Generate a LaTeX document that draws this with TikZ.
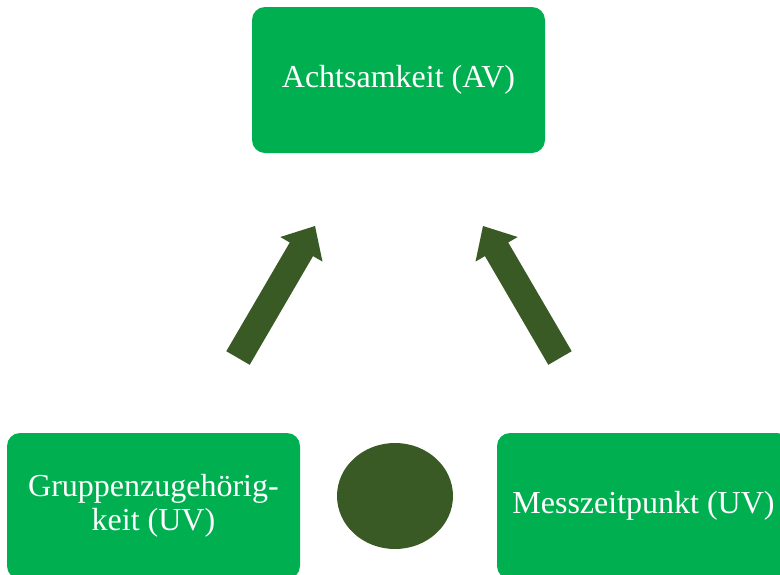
\documentclass[tikz,border=0pt]{standalone}
\usepackage{fontspec}
\setmainfont{Liberation Serif}
\usetikzlibrary{shapes.geometric}
\definecolor{boxgreen}{HTML}{00B050}
\definecolor{darkgreen}{HTML}{3A5A25}
\begin{document}
\begin{tikzpicture}[x=1pt,y=-1pt,
  greenbox/.style={fill=boxgreen, draw=none, rounded corners=13pt,
    minimum width=293pt, minimum height=146pt, inner sep=0pt,
    text=white, align=center,
    font=\fontsize{32}{34}\selectfont},
  blockarrow/.style={fill=darkgreen, draw=none}]
\useasboundingbox (0,0) rectangle (780,574);
\clip (0,0) rectangle (780,574);
\node[greenbox] (av) at (398.5,80) {Achtsamkeit (AV)};
\node[greenbox] (gz) at (153.5,506) {Gruppenzugehörig-\\keit (UV)};
\node[greenbox] (mz) at (643.5,506) {Messzeitpunkt (UV)};
\node[fill=darkgreen, ellipse, minimum width=116pt, minimum height=106pt, inner sep=0pt] (dot) at (395,496) {};
% left block arrow
\fill[blockarrow] (226.3,351.2) -- (289.75,242.5) -- (280.3,237) -- (315,226)
  -- (322.5,261.6) -- (313.05,256.1) -- (249.7,364.8) -- cycle;
% right block arrow (mirror about x=399)
\fill[blockarrow] (571.7,351.2) -- (508.25,242.5) -- (517.7,237) -- (483,226)
  -- (475.5,261.6) -- (484.95,256.1) -- (548.3,364.8) -- cycle;
\end{tikzpicture}
\end{document}
